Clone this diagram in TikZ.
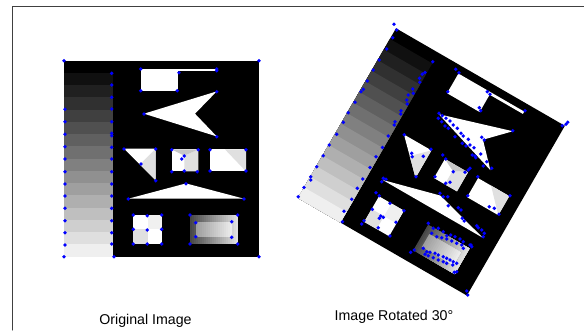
\documentclass[tikz,border=0pt]{standalone}
\usepackage{fontspec}
\newfontfamily\capfont{Liberation Sans}
\usetikzlibrary{positioning}

% test picture in its own frame: origin top left, 1 unit = 1 pixel, y pointing down
\newcommand{\testpic}{%
  \fill[black] (0,0) rectangle (195,196);
  \foreach \i in {1,...,15}{
    \pgfmathsetmacro\lev{6.25*\i}
    \fill[white!\lev!black] (0,12.25*\i) rectangle (49,196);
  }
  \fill[white] (76.7,8) rectangle (114.3,30.7);
  \fill[white] (114.3,8) rectangle (152.7,10.7);
  \fill[white] (80,53) -- (152.7,30.7) -- (131,53) -- (152.7,75.7) -- cycle;
  \fill[white] (60,88) -- (91.7,88) -- (91.7,119.7) -- cycle;
  \fill[lightpatch] (75.8,103.8) -- (91.7,88) -- (91.7,119.7) -- cycle;
  \fill[white] (107.7,88.7) rectangle (134.3,110.7);
  \fill[lightpatch] (120.3,95) -- (134.3,88.7) -- (134.3,110.7) -- (120.3,110.7) -- cycle;
  \fill[midpatch] (107.7,88.7) -- (134.3,88.7) -- (120.3,95) -- cycle;
  \fill[white] (146,88.7) rectangle (182,110.7);
  \fill[lightpatch] (161,88.7) -- (182,88.7) -- (182,110.7) -- cycle;
  \fill[white] (64.3,138) -- (122,122.7) -- (180,138) -- cycle;
  \fill[white] (69.3,154) rectangle (98,183.5);
  \fill[black!6] (83.6,154) rectangle (98,168.7);
  \fill[lightpatch] (69.3,168.7) rectangle (83.6,183.5);
  \foreach \k in {0,...,23}{
    \pgfmathsetmacro\lev{28+60*\k/23}
    \fill[white!\lev!black] ({126+1.9875*\k},154) rectangle (173.7,183.5);
  }
  \foreach \k in {0,...,17}{
    \pgfmathsetmacro\lev{62+30*\k/17}
    \fill[white!\lev!black] ({131.7+2.033*\k},161.5) rectangle (168.3,176.3);
  }
}

\begin{document}
\begin{tikzpicture}[line cap=round,line join=round,x=1pt,y=-1pt,
    lightpatch/.style={fill=black!12},
    midpatch/.style={fill=black!22},
    keypt/.style={fill=blue},
    captxt/.style={font=\capfont\fontsize{14.2}{17}\selectfont,inner sep=0pt,anchor=base}]
  \useasboundingbox (0,0) rectangle (584,330);
  \draw[line width=1pt,black!75] (12.8,330) -- (12.8,6) -- (584,6);

  % original
  \begin{scope}[shift={(64,60.7)}]
    \testpic
  \end{scope}
  % rotated by 30 degrees
  \begin{scope}[shift={(396,28.3)},rotate=-30]
    \testpic
  \end{scope}

  % corner points, original
  \foreach \p in {(64,60.7),(259,60.7),(259,256.7),(114,256.7),(64,256.7),
      (140.7,69),(179,72.7),(216.7,69),(216.7,70.7),(140.7,90.7),(177.3,90.7),
      (144,114),(216.7,91.7),(216.7,136.7),
      (124,149),(155.7,149),(141,164),(155.7,180.7),
      (171.7,149.7),(198.3,149.7),(184.3,156),(181.7,159),(171.7,171.7),(184.3,171),(197.3,171.7),
      (210,149.7),(246,149.7),(210,171),(246,171),
      (186,183.7),(128.3,199),(244,199),
      (133.3,215),(147.3,215.7),(161.7,215),(133.3,229.3),(147.3,230),(161.7,229.3),
      (133.3,244),(147.3,244),(161.7,244),
      (190,215),(237.7,215),(195.7,222.7),(231.7,221.7),(195.7,236.7),(231.7,237.3),(190,244),(237.7,244)}
    \fill[keypt] \p circle[radius=1.9];
  \foreach \y in {73.3,85,97.3,109,121.7,133.3,135.7,147.3,159,171.7,184,196,208.3,220.7,232.7,244}
    \fill[keypt] (111.7,\y) circle[radius=1.9];
  \foreach \y in {109.3,121.7,134.3,146.7,159,171.7,184,196,208.3,220.7,232.7,245}
    \fill[keypt] (65,\y) circle[radius=1.9];

  % corner points, rotated
  \foreach \p in {(394,24.3),(396.7,30),(392.7,37.7),
      (386.7,49),(379.3,60),(373.3,70),(367.3,81),(363.3,89.3),(361,91.7),(355,102.3),(348.3,112.7),
      (343.3,122.3),(336.7,134.3),(329.3,145),(323.3,155.7),(316.7,166.7),(310.7,176.7),(310.7,180),
      (304,187.5),(298.3,196.7),
      (432.7,61.7),(425,72.5),(422.3,74.2),(419.5,78.3),(419.7,82.3),(412.7,89),(413.3,93.3),(408.3,95),
      (406.7,100),(407.3,104),(401,110.8),(400.7,114),(395,121.7),(394.3,125),(388.3,136),(382.5,147.5),
      (376,156.7),(370,167.5),(362.7,179),(357.3,188.3),(351.7,199.2),(344,211.3),(342.5,221.7),
      (404.3,134.7),(411.7,153.3),(412.3,156.7),(423.3,156.3),(431,149.3),(416,176.7),
      (455.7,69.3),(459,72.7),(447.7,91.7),(487.3,91.7),(490,94.3),(479.3,107.7),(480.7,110.7),(525,110.7),
      (567.7,122.3),(566,124.3),(562.3,125.7),
      (439,113.3),(442.3,115.7),(438.3,118.3),(446,118.3),(450,121),(441.7,121.7),(453.3,125),(445,126),
      (448.3,128.3),(457.3,128.3),(461,133.3),(463.3,136),(455,136.7),(468.3,139.3),(481.7,137.3),
      (484.3,140),(512.7,130.7),(462.3,143.3),(466,146),(470,145),(474,147.7),(480.7,154),(472.3,155),
      (475.7,157.7),(486.7,161.7),(483.3,166),(491.7,168.3),
      (442.7,155),(445.7,159),(470,168.3),(435,176.7),(445.7,183.3),(450,182.3),(453.3,171.7),(465,172.3),
      (468.3,170),(475,156),(477.7,176.7),
      (467.7,195.7),(510,195.7),(489.3,206.7),(494.3,208.3),(499,214.3),
      (383.3,178.3),(386,179.3),(381.7,181.7),(440,193.3),(443.3,196.7),(447.7,196.7),(448.3,205.7),
      (458.3,207.7),(461,210),(462.3,218.3),(464.3,221),(476.7,225.7),(478.3,227.7),(481.7,230),
      (484.3,233.3),(483.3,236.7),(471,245),
      (376,192.7),(379.3,195.7),(390,203.3),(372.3,209.3),(404,210.7),(380.7,216),(383.3,217.3),
      (379.3,218.3),(364,220.7),(361.7,224),(396,222.3),(378.3,227.7),(390,236),
      (428.3,223.3),(433.3,228.3),(438.3,228.3),(443.3,231.7),(446.7,235.7),(450.7,235),(455,236.7),
      (460,239),(463.3,241.7),(470,245),(471.7,246.7),(431.7,233.3),(436.7,236.7),(441.7,237.7),
      (446.7,239),(451.7,241),(456.7,243.3),(461.7,245),(463.3,248.3),(423.3,248.3),(426.7,251.7),
      (430,252.3),(435,253.3),(438.3,255),(443.3,256.7),(446.7,258.3),(450,260),(453.3,261.7),
      (456.7,263.3),(425,254.3),(428.3,255.7),(433.3,257.7),(438.3,260),(443.3,261.7),(446.7,263.3),
      (452.7,265),(454.3,272.3),(410.7,252.3),(414.3,250),(456.7,271.7),(466.7,291),(467.7,295)}
    \fill[keypt] \p circle[radius=1.9];

  \node[captxt] (origcap) at (145.5,324.3) {Original Image};
  \node[captxt] (rotcap) at (394,320.7) {Image Rotated 30°};
\end{tikzpicture}
\end{document}
